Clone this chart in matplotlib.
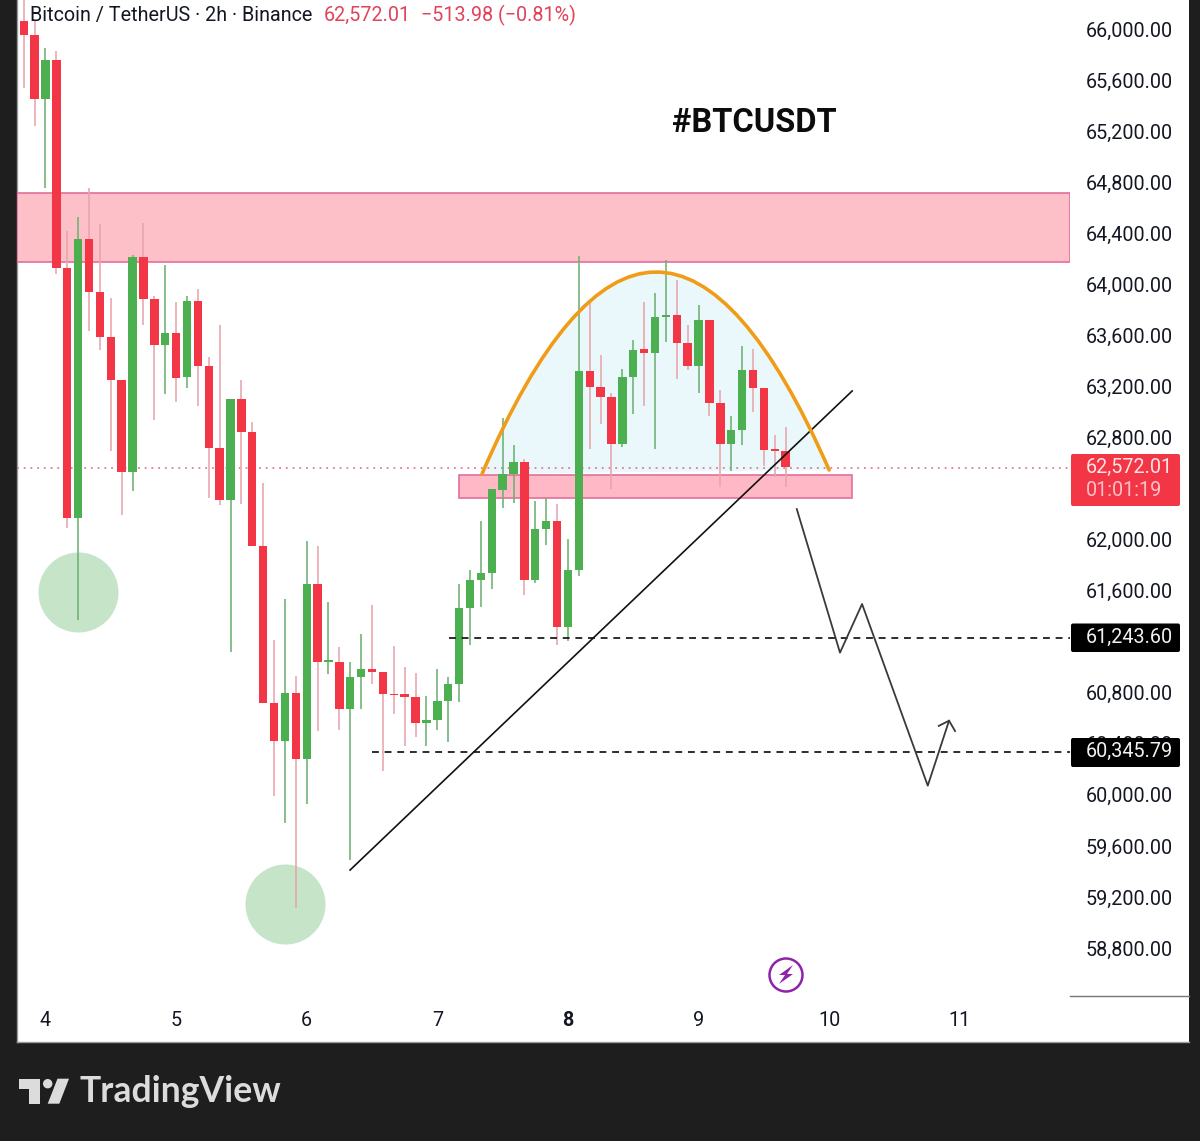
import numpy as np
import matplotlib
matplotlib.use("Agg")
import matplotlib.pyplot as plt
from matplotlib.patches import Rectangle, PathPatch, Polygon, Circle, FancyBboxPatch
from matplotlib.path import Path

plt.rcParams['font.family'] = ['Roboto', 'DejaVu Sans']

opens = [66062,65953,65451,65757,64127,62169,64355,63939,63587,63250,62529,64214,63885,63524,63618,63274,
         63869,63360,62717,62310,63101,62843,61950,60720,60422,60798,60281,61652,61041,61041,60673,60923,
         60986,60963,60790,60790,60767,60563,60586,60735,60868,61464,61683,61738,62388,62514,62608,61683,
         62083,62146,61315,61762,63321,63195,63117,62749,63274,63493,63462,63744,63759,63540,63360,63720,
         63070,62749,62858,63328,63187,62702,62694]
highs = [66305,66070,65851,65827,64417,64527,64754,64472,63892,63250,64229,64480,63908,64151,63861,63908,
         63963,63430,63681,63101,63250,62921,62443,61213,61534,60931,61989,61950,61511,61158,61041,61260,
         61487,60963,61166,61002,60955,60774,60986,60923,61652,61762,62146,62396,62952,62741,62631,62302,
         62326,62279,62004,64221,63853,63446,63148,63336,63563,63861,63932,64190,64033,63681,63838,63720,
         63172,62968,63516,63493,63187,62819,62882]
lows = [65538,65240,64754,64080,62091,61370,63634,63485,62694,62193,62381,63681,62937,63140,63078,63187,
        63046,62326,62271,61119,62279,61950,60720,59991,59780,59114,59929,60500,60947,60508,59490,60673,
        60868,60187,60634,60383,60453,60383,60508,60414,60728,61174,61472,61613,62247,62286,61566,61660,
        61957,61174,61205,61715,62709,62905,62396,62725,62984,63046,62709,63548,63258,63328,63148,62968,
        62412,62537,62741,62999,62576,62490,62412]
closes = [65953,65451,65757,64127,62169,64355,63939,63587,63250,62529,64214,63885,63524,63618,63266,63869,
          63360,62717,62310,63101,62843,61950,60720,60422,60798,60281,61652,61041,61049,60673,60923,60986,
          60963,60790,60782,60767,60563,60586,60735,60868,61464,61683,61738,62396,62514,62608,61683,62083,
          62146,61315,61762,63321,63195,63117,62749,63274,63485,63462,63744,63759,63540,63360,63720,63070,
          62749,62858,63328,63187,62702,62694,62572]

price_ticks = list(range(58800, 66001, 400))
covered_ticks = [61200, 62400]
day_ticks = [4, 5, 6, 7, 8, 9, 10, 11]

upper_zone = (64175, 64715)
lower_zone_prices = (62326, 62506)
lower_zone_days = (7.166, 10.172)
arc_days = [7.342, 8.667, 10.0]
arc_prices = [62514, 65663, 62545]
trend_days = [6.332, 10.176]
trend_prices = [59411, 63164]
target_prices = [61232, 60334]
target_starts = [7.09, 6.50]
path_days = [9.752, 10.083, 10.252, 10.755, 10.918]
path_prices = [62239, 61114, 61495, 60072, 60581]
head_days = [10.839, 10.918, 10.964]
head_prices = [60540, 60581, 60500]
circle_days = [4.25, 5.836]
circle_prices = [61590, 59145]
last_price_line = 62558

RED, GREEN = '#f23645', '#4caf50'
RED_WICK, GREEN_WICK = '#e8a4ac', '#6cb172'
INK = '#131722'

fig = plt.figure(figsize=(12, 11.41), dpi=100, facecolor='#1e1e1e')
W, H = 1200, 1141
panel = fig.add_axes([0, 0, 1, 1], zorder=0)
panel.set_xlim(0, W); panel.set_ylim(H, 0); panel.axis('off')
panel.add_patch(Rectangle((16.5, -2), 1172.5, 1043.5, fc='white', ec='none'))
panel.plot([16.5, 16.5], [0, 1041.5], color='#9a9a9a', lw=1)
panel.plot([16.5, 1189], [1041.5, 1041.5], color='#9a9a9a', lw=1)

ax = fig.add_axes([16.5/W, 1-995/H, (1070-16.5)/W, 995/H], zorder=1)
ax.patch.set_alpha(0)
ax.set_xlim(3.778, 11.844)
ax.set_ylim(58432, 66227)
for s in ax.spines.values():
    s.set_visible(False)

ax.yaxis.tick_right()
ax.set_yticks(price_ticks)
ax.set_yticklabels(['' if p in covered_ticks else f'{p:,.2f}' for p in price_ticks])
ax.set_xticks(day_ticks)
ax.set_xticklabels([str(d) for d in day_ticks])
ax.tick_params(axis='y', length=0, pad=11, labelsize=14.2, labelcolor=INK)
ax.tick_params(axis='x', length=0, pad=11.5, labelsize=14.2, labelcolor=INK)
for lab in ax.get_xticklabels():
    if lab.get_text() == '8':
        lab.set_fontweight('bold')

ax.axhspan(*upper_zone, fc='#fec0c8', ec='#e2709a', lw=1.2, zorder=1)

v0, vc, v1 = zip(arc_days, arc_prices)
arc_path = Path([v0, vc, v1], [Path.MOVETO, Path.CURVE3, Path.CURVE3])
ax.add_patch(PathPatch(Path([v0, vc, v1, v0], [Path.MOVETO, Path.CURVE3, Path.CURVE3, Path.CLOSEPOLY]),
                       fc='#ebf8fb', ec='none', zorder=1))
ax.add_patch(Rectangle((lower_zone_days[0], lower_zone_prices[0]),
                       lower_zone_days[1]-lower_zone_days[0], lower_zone_prices[1]-lower_zone_prices[0],
                       fc='#feb8c6', ec='#e2709a', lw=1.2, zorder=2))
ax.scatter(circle_days, circle_prices, s=(80*0.72)**2, color='#c6e5c8', lw=0, zorder=2)
ax.axhline(last_price_line, color='#d9688a', lw=1.1, dashes=(1.2, 3.2), zorder=2)

days = 4 + (np.arange(len(opens)) - 2) / 12
o, h, l, c = map(np.array, (opens, highs, lows, closes))
up = c >= o
ax.vlines(days, l, h, colors=[GREEN_WICK if u else RED_WICK for u in up], lw=1.15, zorder=3)
body = np.maximum(np.abs(c - o), 12)
ax.bar(days, body, bottom=np.minimum(o, c), width=8.4/130.6,
       color=[GREEN if u else RED for u in up], lw=0, zorder=4)

for p, s in zip(target_prices, target_starts):
    ax.plot([s, 11.844], [p, p], color='#1c1c1c', lw=1.3, dashes=(3.8, 3.2), zorder=5)
ax.plot(trend_days, trend_prices, color='#111111', lw=1.2, zorder=6)
ax.add_patch(PathPatch(arc_path, fc='none', ec='#f09c19', lw=2.6, zorder=6, capstyle='round'))
ax.plot(path_days, path_prices, color='#3a3a3a', lw=1.3, zorder=6)
ax.plot(head_days, head_prices, color='#3a3a3a', lw=1.3, zorder=6)

ov = fig.add_axes([0, 0, 1, 1], zorder=2)
ov.set_xlim(0, W); ov.set_ylim(H, 0); ov.axis('off'); ov.patch.set_alpha(0)

ov.plot([1070, 1189], [995.5, 995.5], color='#777777', lw=1)

ov.text(30, 15, 'Bitcoin / TetherUS · 2h · Binance', fontsize=14.2, color=INK, va='center', ha='left')
ov.text(323.5, 15, '62,572.01', fontsize=14.2, color='#e0435a', va='center', ha='left')
ov.text(421, 15, '−513.98 (−0.81%)', fontsize=14.2, color='#e0435a', va='center', ha='left')
ov.text(672, 123, '#BTCUSDT', fontsize=23.5, fontweight='bold', color='#0c0c0c', va='center', ha='left')

def tag(y0, y1, color):
    ov.add_patch(FancyBboxPatch((1071, y0), 109, y1-y0, boxstyle='round,pad=0,rounding_size=2',
                                fc=color, ec='none'))

tag(454, 506, RED)
ov.text(1086, 467, '62,572.01', fontsize=14.2, color='#fde4e6', va='center', ha='left')
ov.text(1086, 491, '01:01:19', fontsize=14.2, color='#fbc2c8', va='center', ha='left')
tag(623.5, 652, '#000000')
ov.text(1086, 637, '61,243.60', fontsize=14.2, color='#f2f2f2', va='center', ha='left')
tag(738, 767, '#000000')
ov.text(1086, 751, '60,345.79', fontsize=14.2, color='#f2f2f2', va='center', ha='left')

ov.add_patch(Circle((786, 975), 16.5, fc='white', ec='#8e24aa', lw=1.8))
ov.add_patch(Polygon([(793, 965), (779, 975), (785, 975), (779, 984), (793, 974), (787, 974)],
                     fc='#8e24aa', ec='none'))

LOGO = '#dcdcdc'
ov.add_patch(Polygon([(19.3, 1078.7), (40, 1078.7), (40, 1103.7), (29.3, 1103.7), (29.3, 1088.7), (19.3, 1088.7)],
                     fc=LOGO, ec='none'))
ov.add_patch(Circle((47.7, 1083.7), 4.7, fc=LOGO, ec='none'))
ov.add_patch(Polygon([(57.5, 1078.7), (69, 1078.7), (59.3, 1103.7), (47.7, 1103.7)], fc=LOGO, ec='none'))
ov.text(80, 1092, 'TradingView', fontsize=25.6, fontweight='bold', family=['Lato', 'DejaVu Sans'],
        color=LOGO, va='center', ha='left')

fig.savefig('out.png', dpi=100, facecolor=fig.get_facecolor())
